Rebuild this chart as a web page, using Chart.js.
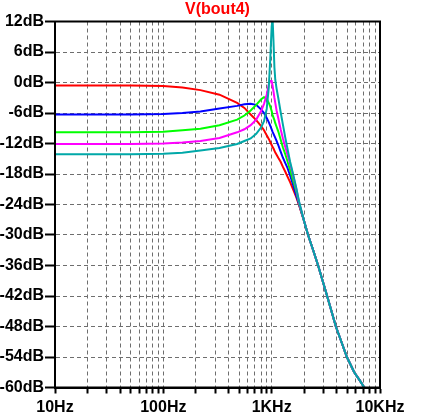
<!DOCTYPE html>
<html lang="en">
<head>
  <meta charset="UTF-8" />
  <title>V(bout4)</title>
  <script src="https://cdn.jsdelivr.net/npm/chart.js"></script>
  <style>
    html, body { margin: 0; padding: 0; background: #fff; }
    #wrap { width: 445px; height: 418px; }
  </style>
</head>
<body>
  <div id="wrap"><canvas id="plot" width="445" height="418"></canvas></div>

  <script>
    // frequency points (Hz) shared by every trace
    const freqs = [10, 50, 100, 150, 220, 330, 480, 560, 640, 720,
                   800, 850, 900, 940, 970, 1000, 1020, 1040, 1060, 1080,
                   1110, 1150, 1210, 1270, 1340, 1400, 1480, 1560, 1690, 1791,
                   2000, 2168, 2400, 2684, 3000, 3250, 3600, 3915, 4400, 4945,
                   5780, 6500, 7160, 7600];

    // magnitudes in dB
    const redDb = [-0.6, -0.6, -0.7, -1.0, -1.5, -2.4, -4.0, -5.0, -6.3, -7.4,
                   -8.6, -9.4, -10.4, -11.1, -11.7, -12.3, -12.7, -13.0, -13.4, -13.8,
                   -14.2, -14.8, -15.6, -16.6, -17.6, -18.5, -19.6, -20.8, -22.6, -24.2,
                   -27.4, -30.0, -32.8, -36.0, -39.5, -42.0, -45.3, -48.0, -51.0, -54.0,
                   -57.0, -58.6, -60.0, -60.6];
    const blueDb = [-6.3, -6.3, -6.2, -6.0, -5.7, -5.1, -4.6, -4.3, -4.2, -4.4,
                    -5.3, -6.0, -7.0, -7.8, -8.5, -9.2, -9.7, -10.1, -10.5, -10.9,
                    -11.5, -12.3, -13.6, -14.8, -15.9, -16.8, -18.3, -19.8, -22.3, -24.0,
                    -27.4, -30.0, -32.8, -36.0, -39.5, -42.0, -45.3, -48.0, -51.0, -54.0,
                    -57.0, -58.6, -60.0, -60.6];
    const greenDb = [-9.8, -9.8, -9.7, -9.4, -9.1, -8.4, -7.3, -6.5, -5.5, -4.4,
                     -3.3, -2.9, -3.2, -4.0, -4.7, -5.6, -6.4, -6.9, -7.4, -8.0,
                     -8.7, -9.6, -11.2, -12.8, -14.2, -15.5, -17.2, -19.0, -21.5, -23.8,
                     -27.4, -30.0, -32.8, -36.0, -39.5, -42.0, -45.3, -48.0, -51.0, -54.0,
                     -57.0, -58.6, -60.0, -60.6];
    const magentaDb = [-12.1, -12.1, -12.0, -11.8, -11.5, -10.9, -9.8, -9.2, -8.4, -7.3,
                       -5.6, -4.2, -2.4, -0.4, 0.3, 0.3, -0.6, -1.8, -3.0, -4.0,
                       -5.5, -7.0, -9.2, -11.0, -12.8, -14.2, -16.0, -17.8, -21.0, -23.6,
                       -27.4, -30.0, -32.8, -36.0, -39.5, -42.0, -45.3, -48.0, -51.0, -54.0,
                       -57.0, -58.6, -60.0, -60.6];
    const cyanDb = [-14.1, -14.1, -14.0, -13.8, -13.4, -12.9, -12.1, -11.5, -11.0, -10.1,
                    -8.8, -7.6, -5.2, -1.0, 4.5, 11.0, 12.5, 8.0, 3.0, 0.5,
                    -1.2, -3.0, -5.8, -8.3, -11.0, -13.0, -15.6, -17.6, -20.8, -23.4,
                    -27.4, -30.0, -32.8, -36.0, -39.5, -42.0, -45.3, -48.0, -51.0, -54.0,
                    -57.0, -58.6, -60.0, -60.6];

    // axes
    const xGridValues = [10, 20, 30, 40, 50, 60, 70, 80, 90,
                         100, 200, 300, 400, 500, 600, 700, 800, 900,
                         1000, 2000, 3000, 4000, 5000, 6000, 7000, 8000, 9000, 10000];
    const xMajorValues = [10, 100, 1000, 10000];
    const xTickLabels = ['10Hz', '100Hz', '1KHz', '10KHz'];
    const yMin = -60, yMax = 12, yStep = 6;

    const FONT = { family: '"Liberation Sans", Arial, sans-serif', size: 16, weight: 'bold' };

    function toPoints(vals) {
      return freqs.map((f, i) => ({ x: f, y: vals[i] }));
    }

    function trace(vals, color) {
      return {
        data: toPoints(vals),
        borderColor: color,
        borderWidth: 2,
        pointRadius: 0,
        tension: 0,
        fill: false
      };
    }

    // black box round the plot area
    const frame = {
      id: 'frame',
      afterDraw(chart) {
        const { ctx, chartArea: a } = chart;
        ctx.save();
        ctx.strokeStyle = '#000';
        ctx.lineWidth = 2;
        ctx.strokeRect(a.left, a.top, a.right - a.left, a.bottom - a.top);
        ctx.restore();
      }
    };

    new Chart(document.getElementById('plot'), {
      type: 'line',
      data: {
        // index 0 is drawn on top
        datasets: [
          trace(cyanDb, '#00a8a8'),
          trace(magentaDb, '#ff00ff'),
          trace(greenDb, '#00ff00'),
          trace(blueDb, '#0000ff'),
          trace(redDb, '#ff0000')
        ]
      },
      options: {
        responsive: false,
        animation: false,
        events: [],
        layout: { padding: { left: 0, right: 65, top: 0, bottom: 0 } },
        plugins: {
          legend: { display: false },
          tooltip: { enabled: false },
          title: {
            display: true,
            text: 'V(bout4)',
            color: '#ff0000',
            fullSize: false,
            font: FONT,
            padding: { top: 0, bottom: 2.3 }
          }
        },
        scales: {
          x: {
            type: 'logarithmic',
            min: 10,
            max: 10000,
            afterBuildTicks: s => { s.ticks = xGridValues.map(v => ({ value: v })); },
            afterFit: s => { s.height = 30.5; },
            ticks: {
              autoSkip: false,
              maxRotation: 0,
              minRotation: 0,
              padding: 4,
              color: '#000',
              font: FONT,
              callback: v => {
                const k = xMajorValues.indexOf(Number(v));
                return k >= 0 ? xTickLabels[k] : '';
              }
            },
            grid: { color: '#6e6e6e', lineWidth: 1, tickLength: 6, tickColor: '#000', tickWidth: 2 },
            border: { display: true, color: '#000', width: 2, dash: [4, 3] }
          },
          y: {
            min: yMin,
            max: yMax,
            afterFit: s => { s.width = 55; },
            ticks: {
              stepSize: yStep,
              autoSkip: false,
              padding: 1,
              color: '#000',
              font: FONT,
              callback: v => v + 'dB'
            },
            grid: { color: '#6e6e6e', lineWidth: 1, tickLength: 10, tickColor: '#000', tickWidth: 2 },
            border: { display: true, color: '#000', width: 2, dash: [4, 3] }
          }
        }
      },
      plugins: [frame]
    });
  </script>
</body>
</html>
